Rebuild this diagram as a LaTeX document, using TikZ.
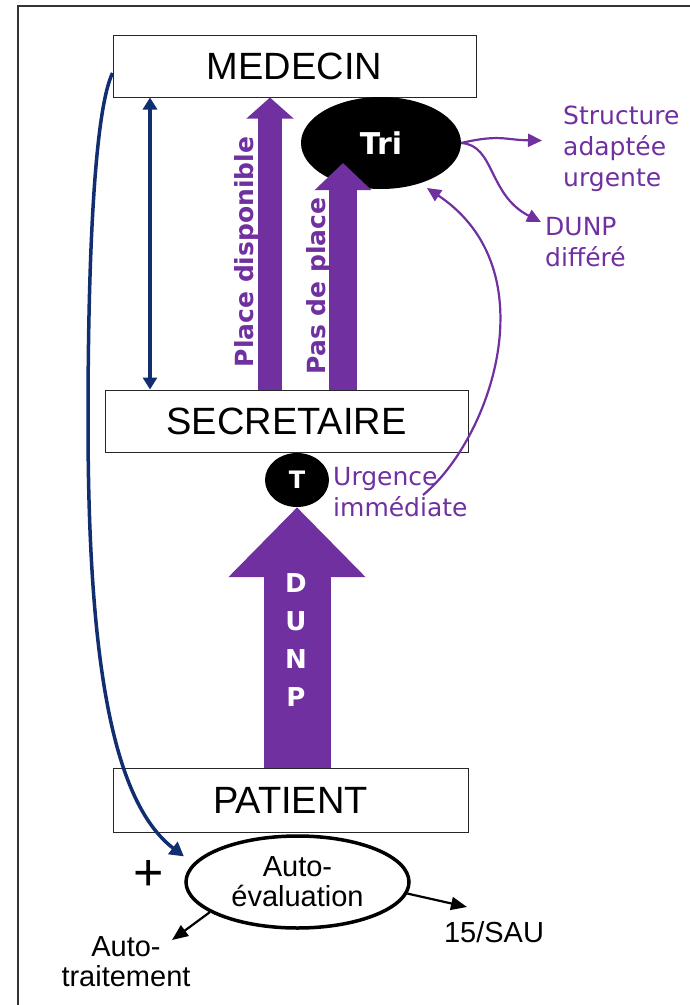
\documentclass[tikz,border=0pt]{standalone}
\usepackage{fontspec}
\setmainfont{Liberation Sans}
\newfontfamily\verd{DejaVu Sans}
\usetikzlibrary{arrows.meta,shapes.geometric,positioning}
\definecolor{DunpPurple}{RGB}{112,48,160}
\definecolor{DunpNavy}{RGB}{16,46,112}

\begin{document}
\begin{tikzpicture}[x=1pt,y=-1pt]
  \useasboundingbox (0,0) rectangle (690,1005);
  \tikzset{BoxStyle/.style = {draw           = black!85,
                              line width     = 1pt,
                              fill           = white,
                              inner sep      = 0pt,
                              minimum width  = 363pt,
                              minimum height = 62pt,
                              font           = \fontsize{38}{40}\selectfont}}

  \tikzset{BlackOvalStyle/.style = {ellipse,
                                    fill       = black,
                                    text       = white,
                                    inner sep  = 0pt}}

  \tikzset{FatArrowStyle/.style n args = {3}{draw = DunpPurple,
                                    line width = #1,
                                    -{Triangle[width=#2,length=#3]}}}

  \tikzset{VertLabelStyle/.style = {rotate = 90, text = DunpPurple, inner sep = 0pt,
                                    font = \verd\bfseries\fontsize{25}{30}\selectfont}}

  \tikzset{PurpleTextStyle/.style = {anchor = west, align = left, inner sep = 0pt,
                                     text = DunpPurple,
                                     font = \verd\fontsize{25}{31}\selectfont}}

  \tikzset{ThinPurpleStyle/.style = {draw = DunpPurple, line width = 2.2pt,
                                     -{Triangle[width=13pt,length=14pt]}}}

  \tikzset{NavyStyle/.style = {draw = DunpNavy, line width = 3.5pt}}

  \tikzset{BlackArrowStyle/.style = {draw = black, line width = 2.2pt,
                                     -{Triangle[width=13pt,length=16pt]}}}

  \tikzset{SmallTextStyle/.style = {align = center, inner sep = 0pt,
                                    font = \fontsize{29}{30}\selectfont}}

  % frame
  \draw[black!80, line width = 1.5pt] (18,1005) -- (18,6) -- (690,6);

     \node[BoxStyle] (Medecin) at (294.5,66) {MEDECIN};
     \node[BoxStyle] (Secretaire) at (286.5,421) {SECRETAIRE};
     \node[BoxStyle, minimum width = 355pt, minimum height = 64pt] (Patient) at (290.5,800) {PATIENT};

     \node[BlackOvalStyle, minimum width = 160pt, minimum height = 92pt,
           font = \verd\bfseries\fontsize{30}{32}\selectfont] (Tri) at (381,143) {Tri};
     \node[BlackOvalStyle, minimum width = 64pt, minimum height = 54pt,
           font = \verd\bfseries\fontsize{24}{26}\selectfont] (T) at (297,480) {T};
     \node[ellipse, draw, line width = 3.5pt, minimum width = 223pt, minimum height = 92pt,
           SmallTextStyle] (AutoEval) at (297.5,882) {Auto-\\évaluation};

     \coordinate (PD) at (270,0);
     \coordinate (PP) at (343,163);
     \coordinate (NV) at (150,0);

     \draw[FatArrowStyle={24pt}{46pt}{21pt}] (Secretaire.north -| PD) -- (Medecin.south -| PD);
     \draw[FatArrowStyle={28pt}{55pt}{27pt}] (Secretaire.north -| PP) -- (PP);
     \draw[FatArrowStyle={67pt}{133pt}{70pt}] (Patient.north -| T) -- (T.south);

     \node[VertLabelStyle] (PlaceDisp) at (247,252) {Place disponible};
     \node[VertLabelStyle] (PasPlace) at (319,286) {Pas de place};
     \node[align = center, inner sep = 0pt, text = white,
           font = \verd\bfseries\fontsize{26}{38}\selectfont] (DunpLabel) at (296,640) {D\\U\\N\\P};

     \node[PurpleTextStyle] (Structure) at (563,148.5) {Structure\\adaptée\\urgente};
     \node[PurpleTextStyle] (Differe) at (545,242) {DUNP\\différé};
     \node[PurpleTextStyle] (Urgence) at (333,492) {Urgence\\immédiate};

     \draw[ThinPurpleStyle] (Tri.east) .. controls (500,134) and (505,140) .. ([xshift=-21pt,yshift=8pt]Structure.west);
     \draw[ThinPurpleStyle] (Tri.east) .. controls (495,145) and (488,195) .. ([xshift=-4pt,yshift=20pt]Differe.west);
     \draw[ThinPurpleStyle] ([xshift=90pt,yshift=-3pt]Urgence.west) .. controls (490,440) and (550,270) .. ([xshift=46pt,yshift=-45pt]Tri.center);

     \draw[NavyStyle, {Triangle[width=14pt,length=12pt]}-{Triangle[width=14pt,length=12pt]}]
          (Medecin.south -| NV) -- (Secretaire.north -| NV);
     \draw[NavyStyle, -{Triangle[width=15pt,length=14pt]}] ([yshift=-7pt]Medecin.west)
          .. controls (95,110) and (88,250) .. (88,420)
          .. controls (88,650) and (110,800) .. ([xshift=-18pt]AutoEval.165);

     \node[inner sep = 0pt, font = \fontsize{52}{52}\selectfont] (Plus) at (149,875) {+};
     \node[SmallTextStyle] (AutoTrait) at (126,962) {Auto-\\traitement};
     \node[SmallTextStyle] (Sau) at (494,932) {15/SAU};
     \coordinate (AutoTraitIn) at (172,940);
     \coordinate (SauIn) at (467,907);

     \draw[BlackArrowStyle] (AutoEval.199) -- (AutoTraitIn);
     \draw[BlackArrowStyle] (AutoEval.354) -- (SauIn);
\end{tikzpicture}
\end{document}
